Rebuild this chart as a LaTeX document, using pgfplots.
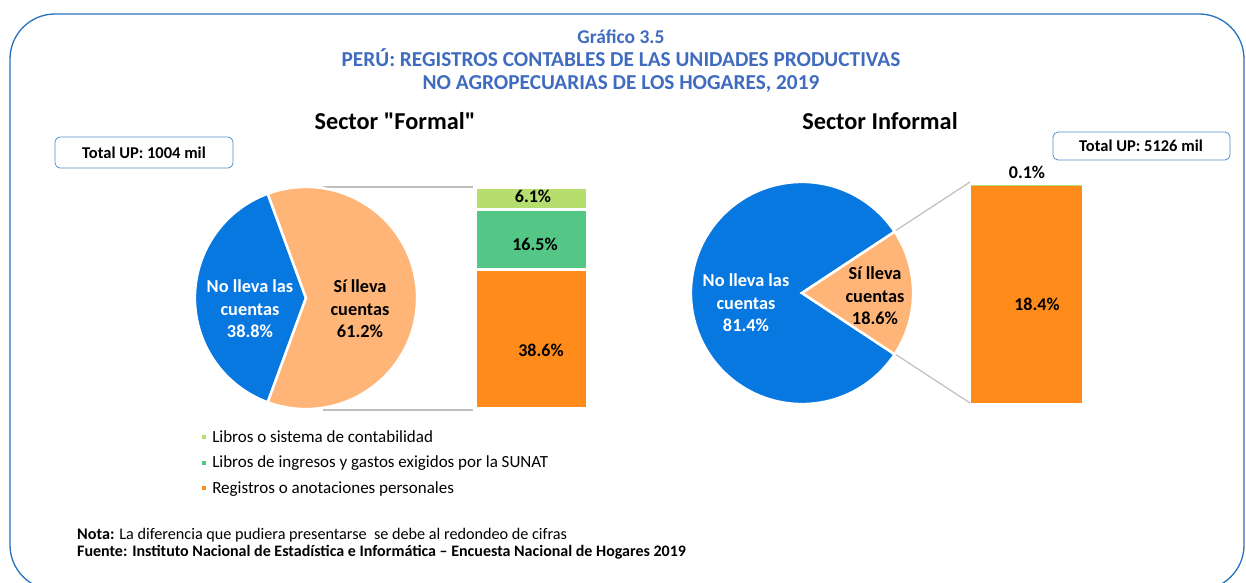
\documentclass[border=0pt]{standalone}
\usepackage{pgfplots}
\pgfplotsset{compat=1.18}
\usepackage{fontspec}
\setmainfont{Carlito}[Ligatures=TeXOff]
\definecolor{cblue}{RGB}{8,120,225}
\definecolor{cpeach}{RGB}{255,181,120}
\definecolor{corange}{RGB}{255,140,26}
\definecolor{cgreen}{RGB}{84,198,134}
\definecolor{clight}{RGB}{182,222,110}
\definecolor{ctitle}{RGB}{64,108,192}
\definecolor{cframe}{RGB}{40,115,190}
\definecolor{cline}{RGB}{191,191,191}
% data
\def\formalNo{38.8}
\def\formalSi{61.2}
\def\informalNo{81.4}
\def\informalSi{18.6}
\begin{document}
\begin{tikzpicture}[x=1pt,y=1pt]
\useasboundingbox (0,0) rectangle (1246,582);
\clip (0,0) rectangle (1246,582);
\fill[white] (0,0) rectangle (1246,582);
\draw[cframe, line width=1.3pt, rounded corners=45pt] (10,-8) rectangle (1244,568);
% titles
\node[font=\fontsize{19.5}{24}\selectfont\bfseries, text=ctitle] at (621,545) {Gráfico 3.5};
\node[font=\fontsize{21.3}{24}\selectfont\bfseries, text=ctitle] at (621,524) {PERÚ: REGISTROS CONTABLES DE LAS UNIDADES PRODUCTIVAS};
\node[font=\fontsize{21.3}{24}\selectfont\bfseries, text=ctitle] at (621,498) {NO AGROPECUARIAS DE LOS HOGARES, 2019};
\node[font=\fontsize{24.3}{28}\selectfont\bfseries] at (395,461) {Sector "Formal"};
\node[font=\fontsize{24.3}{28}\selectfont\bfseries] at (880,461) {Sector Informal};
% total boxes
\draw[cframe!80, line width=0.8pt, rounded corners=5pt] (55,414) rectangle (233,445);
\node[font=\fontsize{16.5}{18}\selectfont\bfseries] at (144,429) {Total UP: 1004 mil};
\draw[cframe!80, line width=0.8pt, rounded corners=5pt] (1053,422) rectangle (1230,450);
\node[font=\fontsize{16.5}{18}\selectfont\bfseries] at (1141,436) {Total UP: 5126 mil};
% connector lines
\draw[cline, line width=1.5pt] (323,395) -- (473,395);
\draw[cline, line width=1.5pt] (323,172) -- (473,172);
\draw[cline, line width=1.2pt] (895,351) -- (970,400);
\draw[cline, line width=1.2pt] (895,228) -- (970,179);
% ---------- formal pie
\pgfmathsetmacro\fa{180-\formalNo*1.8}
\pgfmathsetmacro\fb{180+\formalNo*1.8}
\pgfmathsetmacro\fc{\fb-360}
\begin{axis}[at={(196pt,174pt)}, anchor=south west, width=220pt, height=220pt, scale only axis, hide axis,
  xmin=-1, xmax=1, ymin=-1, ymax=1, clip=false]
\addplot[draw=white, line width=2.5pt, fill=cblue, domain=\fa:\fb, samples=90] ({1.01*cos(x)},{1.01*sin(x)}) -- (0,0) -- cycle;
\addplot[draw=white, line width=2.5pt, fill=cpeach, domain=\fc:\fa, samples=120] ({1.01*cos(x)},{1.01*sin(x)}) -- (0,0) -- cycle;
\end{axis}
% ---------- informal pie
\pgfmathsetmacro\ga{\informalSi*1.8}
\pgfmathsetmacro\gb{360-\informalSi*1.8}
\pgfmathsetmacro\gc{-\informalSi*1.8}
\begin{axis}[at={(692pt,179pt)}, anchor=south west, width=220pt, height=220pt, scale only axis, hide axis,
  xmin=-1, xmax=1, ymin=-1, ymax=1, clip=false]
\addplot[draw=white, line width=2.5pt, fill=cblue, domain=\ga:\gb, samples=120] ({1.01*cos(x)},{1.01*sin(x)}) -- (0,0) -- cycle;
\addplot[draw=white, line width=2.5pt, fill=cpeach, domain=\gc:\ga, samples=60] ({1.01*cos(x)},{1.01*sin(x)}) -- (0,0) -- cycle;
\end{axis}
% pie labels
\node[text=white, font=\fontsize{18.3}{22.5}\selectfont\bfseries, align=center] at (250,273) {No lleva las\\cuentas\\38.8\%};
\node[font=\fontsize{18.3}{22.5}\selectfont\bfseries, align=center] at (360,273) {Sí lleva\\cuentas\\61.2\%};
\node[text=white, font=\fontsize{18.3}{22.5}\selectfont\bfseries, align=center] at (746,279) {No lleva las\\cuentas\\81.4\%};
\node[font=\fontsize{18.3}{22.5}\selectfont\bfseries, align=center] at (875,286) {Sí lleva\\cuentas\\18.6\%};
% ---------- formal bar
\begin{axis}[at={(477pt,174pt)}, anchor=south west, width=109pt, height=220pt, scale only axis, hide axis,
  xmin=-0.5, xmax=0.5, ymin=0, ymax=61.2, ybar stacked, bar width=112pt, clip=false,
  reverse legend,
  legend image code/.code={\fill[#1] (0pt,-3.5pt) rectangle (7pt,3.5pt);},
  legend style={at={(axis description cs:-2.55,-0.1)}, anchor=north west, draw=none, fill=none,
    font=\fontsize{17}{19}\selectfont, row sep=12.5pt, inner sep=0pt,
    nodes={inner xsep=3pt, inner ysep=0pt}},
  legend cell align=left]
\addplot[fill=corange, draw=white, line width=3pt] coordinates {(0,38.6)};
\addplot[fill=cgreen, draw=white, line width=3pt] coordinates {(0,16.5)};
\addplot[fill=clight, draw=white, line width=3pt] coordinates {(0,6.1)};
\legend{Registros o anotaciones personales, Libros de ingresos y gastos exigidos por la SUNAT, Libros o sistema de contabilidad}
\end{axis}
% ---------- informal bar
\begin{axis}[at={(971pt,179pt)}, anchor=south west, width=111pt, height=218pt, scale only axis, hide axis,
  xmin=-0.5, xmax=0.5, ymin=0, ymax=18.5, ybar stacked, bar width=111pt, clip=false]
\addplot[fill=corange, draw=none] coordinates {(0,18.4)};
\addplot[fill=clight, draw=none] coordinates {(0,0.1)};
\end{axis}
% bar labels
\node[font=\fontsize{18}{20}\selectfont\bfseries] at (533,386) {6.1\%};
\node[font=\fontsize{18}{20}\selectfont\bfseries] at (535,338) {16.5\%};
\node[font=\fontsize{18}{20}\selectfont\bfseries] at (541,232) {38.6\%};
\node[font=\fontsize{18}{20}\selectfont\bfseries] at (1037,278) {18.4\%};
\node[font=\fontsize{18}{20}\selectfont\bfseries] at (1027,410) {0.1\%};
% notes
\node[anchor=west, font=\fontsize{16.2}{18}\selectfont, inner sep=0pt] at (77,47) {\textbf{Nota:} La diferencia que pudiera presentarse\ \ se debe al redondeo de cifras};
\node[anchor=west, font=\fontsize{16}{18}\selectfont\bfseries, inner sep=0pt] at (77,30) {Fuente: Instituto Nacional de Estadística e Informática – Encuesta Nacional de Hogares 2019};
\end{tikzpicture}
\end{document}
